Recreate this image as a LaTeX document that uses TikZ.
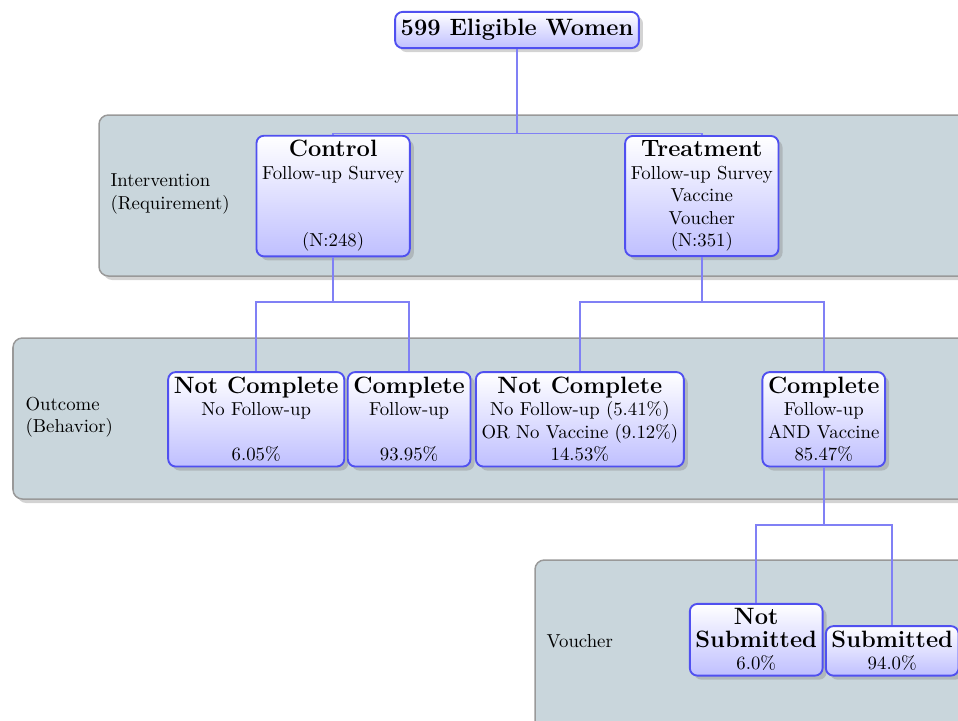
\documentclass[tikz,border=0pt]{standalone}
\usepackage{tikz}
\usetikzlibrary{positioning,shadows}
\definecolor{panelgray}{RGB}{201,214,220}
\definecolor{edgeblue}{RGB}{80,80,240}
\definecolor{linkblue}{RGB}{128,128,245}
\newcommand{\head}[1]{{\fontsize{12.6}{15}\selectfont\bfseries #1}}
\tikzset{
  group/.style={
    draw=gray!80,
    fill=panelgray,
    rounded corners=5pt,
    line width=0.8pt,
    drop shadow={opacity=0.35}
  },
  box/.style={
    draw=edgeblue,
    line width=1pt,
    rounded corners=4pt,
    top color=white,
    bottom color=blue!25,
    drop shadow={opacity=0.35},
    align=center,
    inner xsep=3pt,
    inner ysep=2.5pt
  },
  link/.style={draw=linkblue, line width=0.9pt},
  grouplabel/.style={align=left, anchor=west}
}

\begin{document}
\begin{tikzpicture}[x=0.533pt,y=-0.533pt]
        \useasboundingbox (0,0) rectangle (958,720);
        \clip (0,0) rectangle (958,720);
        % grey bands
        \draw[group] (99,115) rectangle (1010,276);
        \draw[group] (13,338) rectangle (1010,499);
        \draw[group] (535,560) rectangle (1010,780);
        \node[grouplabel] (intlabel) at (104,194) {Intervention\\(Requirement)};
        \node[grouplabel] (outlabel) at (19,417) {Outcome\\(Behavior)};
        \node[grouplabel] (vchlabel) at (540,641) {Voucher};
        % tree
        \node[box, inner ysep=4pt] (women) at (517,30) {\head{599 Eligible Women}};
        \node[box, on grid, below left=88.5pt and 98pt of women] (ctrl) {\head{Control}\\Follow-up Survey\\ \mbox{}\\ \mbox{}\\ (N:248)};
        \node[box, on grid, right=196.5pt of ctrl] (treat) {\head{Treatment}\\Follow-up Survey\\Vaccine\\Voucher\\(N:351)};
        \node[box, on grid, below left=119pt and 41pt of ctrl] (ctrlno) {\head{Not Complete}\\No Follow-up\\ \mbox{}\\ 6.05\%};
        \node[box, on grid, right=81.5pt of ctrlno] (ctrlyes) {\head{Complete}\\Follow-up\\ \mbox{}\\ 93.95\%};
        \node[box, on grid, right=91pt of ctrlyes] (treatno) {\head{Not Complete}\\No Follow-up (5.41\%)\\OR No Vaccine (9.12\%)\\14.53\%};
        \node[box, on grid, right=130pt of treatno] (treatyes) {\head{Complete}\\Follow-up\\AND Vaccine\\85.47\%};
        \node[box, on grid, below left=117.5pt and 36pt of treatyes] (notsub) {\head{Not}\\\head{Submitted}\\6.0\%};
        \node[box, anchor=south] (sub) at ([xshift=72.5pt]notsub.south) {\head{Submitted}\\94.0\%};
        \draw[link] (women.south) -- ++(0,-45pt) -| (ctrl.north);
        \draw[link] (women.south) -- ++(0,-45pt) -| (treat.north);
        \draw[link] (ctrl.south) -- ++(0,-24pt) -| (ctrlno.north);
        \draw[link] (ctrl.south) -- ++(0,-24pt) -| (ctrlyes.north);
        \draw[link] (treat.south) -- ++(0,-24pt) -| (treatno.north);
        \draw[link] (treat.south) -- ++(0,-24pt) -| (treatyes.north);
        \draw[link] (treatyes.south) -- ++(0,-30.5pt) -| (notsub.north);
        \draw[link] (treatyes.south) -- ++(0,-30.5pt) -| (sub.north);
      \end{tikzpicture}
\end{document}
